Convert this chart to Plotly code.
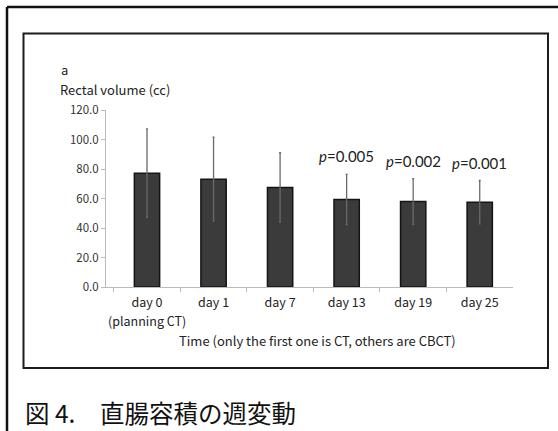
import plotly.graph_objects as go

# Rectal volume (cc) over the course of treatment: mean and SD
categories = ["day 0", "day 1", "day 7", "day 13", "day 19", "day 25"]
first_note = "(planning CT)"
mean_volume = [77.2, 73.1, 67.5, 59.3, 58.0, 57.5]
sd_volume = [30.0, 28.5, 23.5, 17.0, 15.5, 14.7]
p_values = {"day 13": "0.005", "day 19": "0.002", "day 25": "0.001"}
y_ticks = [0, 20, 40, 60, 80, 100, 120]

W, H = 558, 431


def px(x):
    return x / W


def py(y):
    return 1 - y / H


fig = go.Figure()
fig.add_trace(go.Bar(
    x=categories,
    y=mean_volume,
    marker=dict(color="#3b3b3b", line=dict(color="#141414", width=1.5)),
    error_y=dict(type="data", array=sd_volume, visible=True,
                 color="#6a6a6a", thickness=1.3, width=1),
    width=0.38,
    showlegend=False,
))

tick_font = dict(family="Noto Sans CJK JP, DejaVu Sans", size=12.5, color="#222222")

fig.update_layout(
    width=W, height=H,
    margin=dict(l=0, r=0, t=0, b=0, autoexpand=False),
    paper_bgcolor="white", plot_bgcolor="white",
    xaxis=dict(
        domain=[px(106), px(513)],
        type="category", automargin=False,
        tickmode="array", tickvals=categories, ticktext=categories,
        tickson="boundaries", tickangle=0,
        ticks="outside", ticklen=4, tickcolor="#bbbbbb",
        ticklabelstandoff=4,
        showline=True, linecolor="#bbbbbb", linewidth=1,
        showgrid=False,
        tickfont=tick_font,
        anchor="y",
    ),
    yaxis=dict(
        domain=[py(287), py(110)],
        range=[0, 120], automargin=False,
        tickmode="array", tickvals=y_ticks,
        ticktext=[f"{v:.1f}" for v in y_ticks],
        ticks="outside", ticklen=4, tickcolor="#bbbbbb",
        showline=True, linecolor="#bbbbbb", linewidth=1,
        showgrid=False, zeroline=False,
        tickfont=dict(family="Noto Sans CJK JP, DejaVu Sans", size=11.5, color="#333333"),
        anchor="x",
    ),
    bargap=0.62,
)

# Frames: outer page border (left/top) and the figure panel box
fig.add_shape(type="line", xref="paper", yref="paper",
              x0=px(7), x1=1.0, y0=py(7), y1=py(7),
              line=dict(color="#111111", width=2.5))
fig.add_shape(type="line", xref="paper", yref="paper",
              x0=px(7), x1=px(7), y0=py(7), y1=0.0,
              line=dict(color="#111111", width=2.5))
fig.add_shape(type="rect", xref="paper", yref="paper",
              x0=px(23.5), x1=px(548), y0=py(33.5), y1=py(368),
              line=dict(color="#1c1c1c", width=2))

# Second line under the first category label
fig.add_annotation(text=first_note, x=categories[0], xref="x",
                   y=py(320), yref="paper", xanchor="center", yanchor="middle",
                   showarrow=False, font=tick_font)

label_font = dict(family="Noto Sans CJK JP, DejaVu Sans", size=13, color="#222222")
fig.add_annotation(text="a", xref="paper", yref="paper",
                   x=px(59), y=py(69), xanchor="left", yanchor="middle",
                   showarrow=False, font=label_font)
fig.add_annotation(text="Rectal volume (cc)", xref="paper", yref="paper",
                   x=px(58), y=py(89), xanchor="left", yanchor="middle",
                   showarrow=False, font=label_font)
fig.add_annotation(text="Time (only the first one is CT, others are CBCT)",
                   xref="paper", yref="paper",
                   x=px(317), y=py(340), xanchor="center", yanchor="middle",
                   showarrow=False, font=label_font)

# Significance labels above the error bars
for cat, m, s in zip(categories, mean_volume, sd_volume):
    if cat in p_values:
        fig.add_annotation(text=f"<i>p</i>=" + p_values[cat], x=cat, y=m + s,
                           xref="x", yref="y", xanchor="center", yanchor="bottom",
                           yshift=7, showarrow=False,
                           font=dict(family="Lato, Open Sans", size=15, color="#222222"))

fig.add_annotation(text="図 4.　直腸容積の週変動", xref="paper", yref="paper",
                   x=px(24), y=py(412), xanchor="left", yanchor="middle",
                   showarrow=False, borderpad=0,
                   font=dict(family="Noto Sans CJK JP", size=24.5, color="#111111"))

fig.write_html("out.html")
